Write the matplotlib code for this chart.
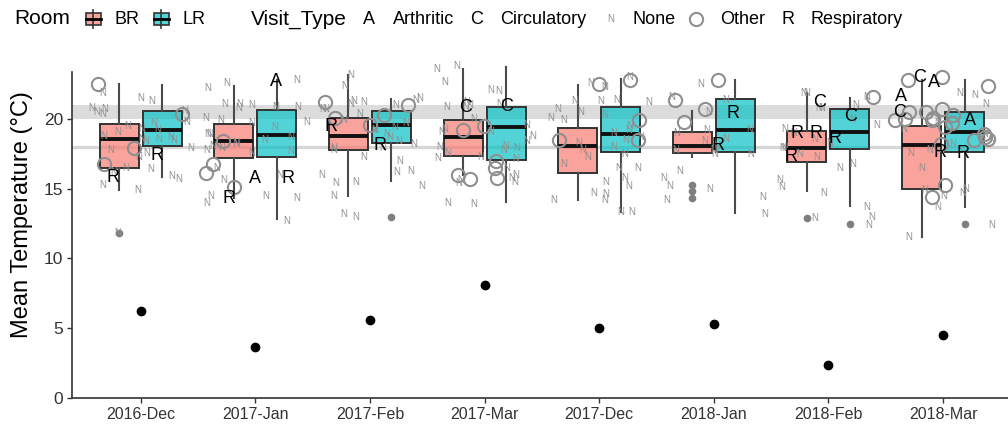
import numpy as np
import matplotlib
matplotlib.use("Agg")
import matplotlib.pyplot as plt
from matplotlib.patches import Rectangle
from matplotlib.lines import Line2D

plt.rcParams["font.family"] = ["Liberation Sans", "DejaVu Sans"]

# ---- data -------------------------------------------------------------
months = ["2016-Dec", "2017-Jan", "2017-Feb", "2017-Mar",
          "2017-Dec", "2018-Jan", "2018-Feb", "2018-Mar"]

# monthly mean outdoor temperature
outdoor_temp = [6.2, 3.6, 5.6, 8.1, 5.0, 5.3, 2.3, 4.5]

# box statistics, bedroom (BR)
br_low = [14.9, 14.3, 14.5, 16.0, 14.2, 17.3, 14.8, 11.5]
br_q1 = [16.5, 17.2, 17.8, 17.35, 16.15, 17.55, 16.9, 15.0]
br_med = [18.6, 18.45, 18.8, 18.7, 18.05, 18.1, 17.95, 18.15]
br_q3 = [19.65, 19.65, 20.05, 19.95, 19.35, 19.05, 19.15, 19.5]
br_high = [22.55, 22.35, 23.2, 23.6, 22.45, 20.6, 21.85, 22.8]
br_out = [[11.8], [], [], [], [], [15.25, 14.8, 14.3], [12.9], []]

# box statistics, living room (LR)
lr_low = [15.85, 12.85, 15.55, 14.05, 13.35, 13.25, 13.75, 13.7]
lr_q1 = [18.1, 17.25, 18.3, 17.05, 17.65, 17.65, 17.85, 17.65]
lr_med = [19.2, 18.85, 19.55, 19.4, 18.95, 19.2, 19.1, 19.1]
lr_q3 = [20.55, 20.65, 20.6, 20.9, 20.85, 21.45, 20.7, 20.5]
lr_high = [22.45, 22.8, 21.45, 23.75, 22.85, 22.8, 21.5, 22.8]
lr_out = [[], [], [13.0], [], [], [], [12.45], [12.45]]

# individual readings by visit type
none_temps = [
    [21.9, 21.5, 21.3, 20.8, 20.7, 20.6, 20.5, 20.4, 19.8, 19.7, 19.5, 19.3,
     19.2, 19.1, 18.8, 18.7, 18.6, 18.6, 18.5, 18.4, 17.9, 17.8, 17.6, 17.3,
     16.5, 16.4, 16.2, 15.9, 15.7, 15.3, 14.9, 11.8],
    [22.8, 22.6, 22.2, 21.1, 21.1, 21.0, 20.9, 20.9, 20.8, 20.1, 19.9, 19.8,
     19.7, 19.4, 18.9, 18.9, 18.7, 18.5, 18.3, 18.2, 18.1, 17.9, 17.8, 17.7,
     17.6, 16.5, 16.0, 15.6, 14.5, 14.5, 14.3, 14.0, 12.7],
    [23.2, 22.4, 21.5, 21.4, 21.3, 21.2, 21.1, 21.0, 20.7, 20.7, 20.4, 19.9,
     19.7, 19.4, 19.2, 18.9, 18.7, 18.4, 18.2, 17.9, 17.9, 17.8, 17.3, 17.0,
     16.3, 16.2, 16.0, 15.5, 15.4, 15.2, 14.5, 13.2, 13.0],
    [23.8, 23.6, 22.7, 22.1, 22.0, 21.2, 21.1, 21.0, 20.9, 20.9, 20.0, 19.6,
     19.3, 19.1, 19.1, 18.8, 18.4, 18.1, 18.0, 17.9, 17.8, 17.6, 17.3, 17.2,
     17.1, 16.5, 16.0, 15.8, 15.6, 15.5, 15.4, 14.0, 13.9],
    [23.0, 22.6, 22.3, 21.4, 21.3, 21.3, 21.2, 20.7, 20.5, 20.3, 20.1, 19.9,
     19.5, 19.2, 19.0, 18.7, 18.5, 18.3, 18.0, 17.8, 17.5, 17.3, 16.8, 16.5,
     16.5, 15.8, 15.5, 15.2, 14.7, 14.6, 14.2, 14.2, 13.3, 13.3],
    [22.5, 21.6, 21.4, 20.5, 19.2, 19.2, 19.0, 18.6, 18.4, 18.1, 17.8, 17.8,
     17.5, 17.5, 16.3, 15.8, 15.2, 15.0, 14.4, 14.2, 13.2],
    [21.9, 21.9, 21.6, 21.0, 20.8, 20.8, 20.0, 19.6, 19.3, 19.0, 18.6, 18.3,
     17.9, 17.9, 17.5, 17.3, 16.8, 16.5, 15.6, 15.1, 14.7, 13.7, 13.0, 12.9,
     12.4],
    [21.9, 21.7, 21.1, 19.7, 19.3, 18.9, 18.7, 18.5, 18.2, 17.8, 17.8, 17.6,
     16.5, 15.0, 14.9, 14.7, 14.5, 13.7, 12.4, 11.5],
]
other_temps = [
    [22.5, 20.4, 17.9, 16.8],
    [18.4, 16.8, 16.1, 15.1],
    [21.2, 21.0, 20.3, 20.1, 19.6],
    [19.5, 19.2, 17.0, 16.5, 16.0, 15.8, 15.7],
    [22.8, 22.5, 19.9, 18.5, 18.5],
    [22.8, 21.4, 20.7, 19.8],
    [21.6],
    [23.0, 22.8, 22.4, 20.7, 20.5, 20.5, 20.3, 20.1, 20.0, 19.9, 19.9, 19.7,
     19.4, 18.9, 18.7, 18.6, 18.5, 18.2, 15.3, 14.4],
]
arthritic_temps = [[], [22.7, 15.7], [], [], [], [], [], [22.6, 21.6, 19.9]]
circulatory_temps = [[], [], [], [20.9, 20.8], [], [], [21.2, 20.2], [23.0, 20.5]]
respiratory_temps = [[17.4, 15.8], [15.7, 14.3], [19.5, 18.1], [], [],
                     [20.4, 18.1], [19.0, 19.0, 18.6, 17.3], [17.6, 17.5]]

# ---- styling ----------------------------------------------------------
BR_COLOR = "#F8766D"
LR_COLOR = "#00BFC4"
BOX_ALPHA = 0.68
EDGE = "#333333"
WHISKER = "#4a4a4a"
POINT_GRAY = "#8f8f8f"
TXT = "#333333"

W, H = 1008, 425
fig = plt.figure(figsize=(W / 100, H / 100), dpi=100)

px_per_deg = 13.92
y_top = 25.0
ax_left, ax_right = 72, 1011.8
ax_bottom = 397.5
ax = fig.add_axes([ax_left / W, (H - ax_bottom) / H,
                   (ax_right - ax_left) / W, y_top * px_per_deg / H])
ax.set_xlim(0.4, len(months) + 0.6)
ax.set_ylim(0, y_top)

# comfort band and reference line
ax.axhspan(20, 21, color="#dcdcdc", zorder=0.5, lw=0)
ax.axhline(18, color="#d6d6d6", lw=2.4, zorder=0.6)

x = np.arange(1, len(months) + 1)
dodge = 0.1875
box_w = 0.34


def make_stats(lo, q1, med, q3, hi, out):
    return [dict(whislo=a, q1=b, med=c, q3=d, whishi=e, fliers=f)
            for a, b, c, d, e, f in zip(lo, q1, med, q3, hi, out)]


for stats, pos, color in [
    (make_stats(br_low, br_q1, br_med, br_q3, br_high, br_out), x - dodge, BR_COLOR),
    (make_stats(lr_low, lr_q1, lr_med, lr_q3, lr_high, lr_out), x + dodge, LR_COLOR),
]:
    ax.bxp(stats, positions=pos, widths=box_w, patch_artist=True,
           showcaps=False, showfliers=True, manage_ticks=False,
           boxprops=dict(facecolor=matplotlib.colors.to_rgba(color, BOX_ALPHA),
                         edgecolor=EDGE, linewidth=1.4),
           medianprops=dict(color="#111111", linewidth=2.8, solid_capstyle="butt"),
           whiskerprops=dict(color=WHISKER, linewidth=1.5),
           flierprops=dict(marker="o", markerfacecolor="#7f7f7f",
                           markeredgecolor="none", markersize=5.5),
           zorder=2)

# jittered readings
rng = np.random.default_rng(11)
for i in range(len(months)):
    for val in none_temps[i]:
        xi = x[i] + rng.uniform(-0.45, 0.45)
        ax.text(xi, val, "N", fontsize=7, color=POINT_GRAY,
                ha="center", va="center", zorder=3)
    for val in other_temps[i]:
        xi = x[i] + rng.uniform(-0.45, 0.45)
        ax.plot(xi, val, "o", mfc="none", mec=POINT_GRAY, ms=9.5, mew=1.5,
                zorder=3)
    for letter, vals in (("A", arthritic_temps[i]), ("C", circulatory_temps[i]),
                         ("R", respiratory_temps[i])):
        for val in vals:
            xi = x[i] + rng.uniform(-0.4, 0.4)
            ax.text(xi, val, letter, fontsize=13, color="black",
                    ha="center", va="center", zorder=4)

# outdoor monthly mean
ax.plot(x, outdoor_temp, "o", color="black", ms=6, zorder=5, ls="none")

# axes styling
for side in ("top", "right"):
    ax.spines[side].set_visible(False)
for side in ("left", "bottom"):
    ax.spines[side].set_color(EDGE)
    ax.spines[side].set_linewidth(1.2)
ax.spines["left"].set_bounds(0, 23.35)
ax.set_xticks(x)
ax.set_xticklabels(months)
ax.set_yticks([0, 5, 10, 15, 20])
ax.tick_params(axis="both", length=3.5, width=1.0, color=EDGE,
               labelcolor=TXT, pad=3)
ax.tick_params(axis="x", labelsize=11.5)
ax.tick_params(axis="y", labelsize=12.5)

fig.text(22 / W, 1 - 215 / H, "Mean Temperature (°C)", rotation=90,
         ha="center", va="center", fontsize=17, color="black")

# ---- legend -------------------------------------------------------------
ly = 1 - 19 / H


def fx(px):
    return px / W


def legend_box(cx, color):
    bw, bh = 15, 12
    fig.add_artist(Line2D([fx(cx), fx(cx)], [1 - 10 / H, 1 - 28 / H],
                          color=EDGE, lw=1.2, transform=fig.transFigure))
    fig.add_artist(Rectangle((fx(cx - bw / 2), 1 - (19 + bh / 2) / H),
                             bw / W, bh / H, transform=fig.transFigure,
                             facecolor=matplotlib.colors.to_rgba(color, BOX_ALPHA),
                             edgecolor=EDGE, lw=1.2))
    fig.add_artist(Line2D([fx(cx - bw / 2), fx(cx + bw / 2)], [ly, ly],
                          color="black", lw=2.0, transform=fig.transFigure))


fig.text(fx(14), ly, "Room", fontsize=15, va="center", ha="left")
legend_box(93, BR_COLOR)
fig.text(fx(114), ly, "BR", fontsize=13, va="center", ha="left")
legend_box(161, LR_COLOR)
fig.text(fx(183), ly, "LR", fontsize=13, va="center", ha="left")

fig.text(fx(251), ly, "Visit_Type", fontsize=15, va="center", ha="left")
fig.text(fx(369), ly, "A", fontsize=13, va="center", ha="center")
fig.text(fx(393), ly, "Arthritic", fontsize=13, va="center", ha="left")
fig.text(fx(477), ly, "C", fontsize=13, va="center", ha="center")
fig.text(fx(500), ly, "Circulatory", fontsize=13, va="center", ha="left")
fig.text(fx(611), ly, "N", fontsize=7, color=POINT_GRAY, va="center", ha="center")
fig.text(fx(632), ly, "None", fontsize=13, va="center", ha="left")
fig.add_artist(Line2D([fx(696)], [ly], marker="o", mfc="none", mec=POINT_GRAY,
                      ms=9.5, mew=1.5, transform=fig.transFigure))
fig.text(fx(720), ly, "Other", fontsize=13, va="center", ha="left")
fig.text(fx(788), ly, "R", fontsize=13, va="center", ha="center")
fig.text(fx(810), ly, "Respiratory", fontsize=13, va="center", ha="left")

fig.savefig("out.png", dpi=100)
